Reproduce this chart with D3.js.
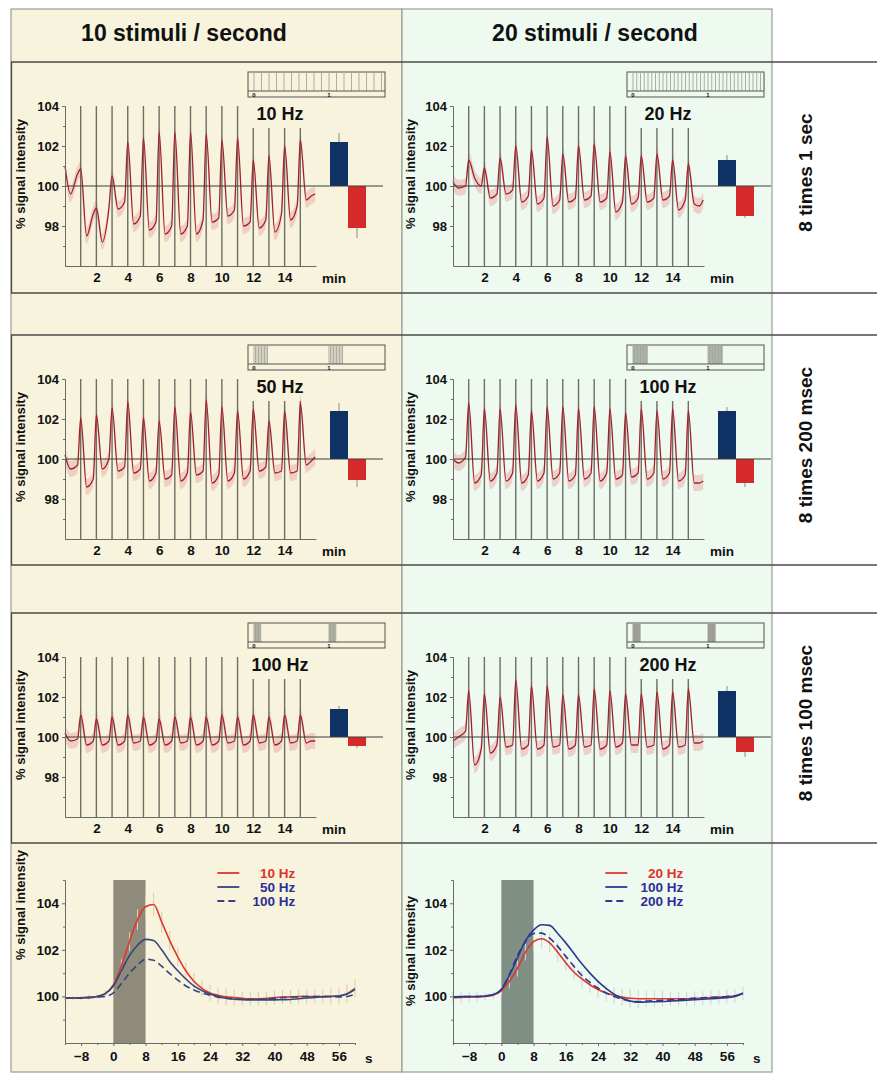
<!DOCTYPE html>
<html lang="en">
<head>
<meta charset="UTF-8">
<title>Stimulation frequency and BOLD signal</title>
<script src="https://cdn.jsdelivr.net/npm/d3@7/dist/d3.min.js"></script>
<style>
    body { margin: 0; background: #fff; }
    svg text { font-family: "Liberation Sans", Arial, Helvetica, sans-serif; font-weight: bold; fill: #111; }
</style>
</head>
<body>
<script>
    // ---- data ----
    // stimulus onsets (min) and the height reached by each marker line
    var onsets = [1, 2, 3, 4, 5, 6, 7, 8, 9, 10, 11, 12, 13, 14, 15];
    var markerTop = [104, 104, 104, 104, 104, 104, 104, 104, 104, 104, 104, 102.9, 102.9, 102.9, 102.9];
    var minTicks = [2, 4, 6, 8, 10, 12, 14];
    var pctTicks = [98, 100, 102, 104];
    var pctMinor = [97, 99, 101, 103];

    // time courses: value at start, value just before each peak, peak, trough after peak, end
    var lead10 = [101.0, 99.6];
    var pres10 = [100.6, 98.6, 98.9, 99.2, 98.5, 98.2, 98.0, 98.0, 98.3, 98.4, 98.8, 98.2, 98.3, 98.6, 99.0];
    var peaks10 = [100.85, 98.9, 100.5, 102.2, 102.4, 102.7, 102.7, 102.7, 102.6, 102.3, 102.4, 101.3, 101.5, 102.0, 102.3];
    var troughs10 = [97.5, 97.2, 98.85, 98.1, 97.8, 97.6, 97.6, 97.6, 98.2, 98.5, 98.0, 97.9, 97.7, 98.3, 99.3];
    var tail10 = [99.5, 99.6];

    var lead20 = [100.2, 99.9];
    var pres20 = [100.0, 100.0, 99.6, 99.8, 99.5, 99.4, 99.3, 99.4, 99.5, 99.4, 99.2, 99.4, 99.4, 99.5, 99.3];
    var peaks20 = [101.3, 100.9, 101.4, 102.0, 101.8, 102.45, 101.6, 102.0, 102.1, 101.7, 101.5, 101.5, 101.6, 101.3, 101.1];
    var troughs20 = [100.4, 99.4, 99.6, 99.2, 99.1, 99.0, 99.2, 99.3, 99.2, 98.7, 99.1, 99.2, 99.3, 98.8, 99.1];
    var tail20 = [99.0, 99.3];

    var lead50 = [100.2, 99.5];
    var pres50 = [99.7, 99.0, 100.0, 99.6, 99.5, 99.3, 99.2, 99.3, 99.4, 99.2, 99.3, 99.4, 99.6, 99.4, 99.4];
    var peaks50 = [102.05, 102.2, 102.55, 102.85, 102.05, 101.9, 102.6, 102.35, 102.95, 102.6, 102.4, 102.5, 101.9, 102.4, 102.8];
    var troughs50 = [98.6, 99.5, 99.4, 99.3, 98.9, 99.0, 98.9, 99.2, 98.8, 98.9, 99.0, 99.4, 99.3, 99.3, 99.7];
    var tail50 = [99.9, 100.1];

    var lead100a = [100.0, 99.8];
    var pres100a = [100.1, 99.2, 99.3, 99.3, 99.2, 99.3, 99.3, 99.2, 99.3, 99.3, 99.2, 99.3, 99.3, 99.3, 99.2];
    var peaks100a = [102.8, 102.5, 102.5, 102.7, 102.4, 102.6, 102.6, 102.5, 102.6, 102.5, 102.3, 102.5, 102.4, 102.5, 102.4];
    var troughs100a = [98.8, 98.9, 98.9, 98.8, 98.9, 99.0, 98.9, 99.0, 98.9, 99.0, 99.1, 99.0, 99.0, 98.9, 98.8];
    var tail100a = [98.8, 98.9];

    var lead100b = [100.2, 99.8];
    var pres100b = [99.9, 99.8, 99.8, 99.8, 99.8, 99.8, 99.8, 99.8, 99.8, 99.8, 99.8, 99.8, 99.8, 99.8, 99.8];
    var peaks100b = [101.1, 100.9, 101.0, 101.1, 101.0, 100.9, 101.0, 101.0, 101.0, 101.1, 101.0, 101.1, 101.0, 101.1, 101.1];
    var troughs100b = [99.6, 99.6, 99.6, 99.7, 99.6, 99.6, 99.7, 99.6, 99.6, 99.7, 99.6, 99.7, 99.6, 99.7, 99.7];
    var tail100b = [99.8, 99.8];

    var lead200 = [99.8, 100.0];
    var pres200 = [100.3, 99.4, 99.6, 99.6, 99.6, 99.6, 99.6, 99.6, 99.6, 99.6, 99.7, 99.6, 99.6, 99.6, 99.6];
    var peaks200 = [102.3, 102.15, 102.0, 102.85, 102.55, 102.55, 102.1, 102.1, 102.4, 102.3, 102.15, 102.15, 102.25, 102.25, 102.4];
    var troughs200 = [98.6, 99.2, 99.5, 99.4, 99.4, 99.5, 99.4, 99.5, 99.4, 99.5, 99.6, 99.5, 99.4, 99.5, 99.7];
    var tail200 = [99.7, 99.8];

    // mean activation / deactivation bars and their errors
    var bars10 = [102.2, 97.9], barErr10 = [0.45, 0.5];
    var bars20 = [101.3, 98.5], barErr20 = [0.25, 0.1];
    var bars50 = [102.4, 98.95], barErr50 = [0.4, 0.35];
    var bars100a = [102.4, 98.8], barErr100a = [0.2, 0.2];
    var bars100b = [101.4, 99.55], barErr100b = [0.15, 0.1];
    var bars200 = [102.3, 99.25], barErr200 = [0.25, 0.25];

    // averaged responses (s relative to stimulus onset)
    var secs = [-12, -10, -8, -6, -4, -2, 0, 2, 4, 6, 8, 10, 12, 14, 16, 18, 20, 22, 24, 26, 28, 30,
                32, 34, 36, 38, 40, 42, 44, 46, 48, 50, 52, 54, 56, 58, 60];
    var secTicks = [-8, 0, 8, 16, 24, 32, 40, 48, 56];
    var secMinor = [-12, -4, 4, 12, 20, 28, 36, 44, 52, 60];
    var resp10 = [99.93, 99.93, 99.94, 99.96, 100.0, 100.12, 100.5, 101.3, 102.35, 103.3, 103.85, 103.95, 103.2, 102.4, 101.7, 101.1, 100.65, 100.35, 100.15, 100.05, 99.98, 99.95,
                  99.92, 99.9, 99.9, 99.92, 99.95, 99.97, 99.98, 100.0, 100.0, 100.0, 100.0, 100.0, 100.02, 100.12, 100.35];
    var resp50 = [99.93, 99.93, 99.94, 99.96, 100.0, 100.12, 100.45, 101.1, 101.75, 102.2, 102.45, 102.4, 102.0, 101.5, 101.1, 100.75, 100.45, 100.25, 100.1, 100.0, 99.92, 99.88,
                  99.86, 99.85, 99.85, 99.85, 99.85, 99.86, 99.87, 99.9, 99.93, 99.96, 99.98, 100.0, 100.02, 100.1, 100.3];
    var resp100a = [99.92, 99.92, 99.93, 99.95, 99.97, 100.0, 100.15, 100.55, 101.0, 101.35, 101.6, 101.55, 101.3, 100.98, 100.7, 100.45, 100.28, 100.15, 100.05, 99.97, 99.92, 99.9,
                    99.88, 99.88, 99.88, 99.9, 99.92, 99.95, 99.97, 99.98, 100.0, 100.0, 100.0, 100.0, 99.98, 100.0, 100.1];
    var err10 = [0.1, 0.1, 0.1, 0.1, 0.1, 0.15, 0.2, 0.3, 0.4, 0.45, 0.5, 0.5, 0.45, 0.4, 0.4, 0.35, 0.35, 0.35, 0.35, 0.35, 0.35, 0.35,
                 0.3, 0.3, 0.3, 0.3, 0.3, 0.3, 0.3, 0.3, 0.3, 0.3, 0.3, 0.35, 0.35, 0.4, 0.4];

    var resp20 = [99.95, 99.96, 99.97, 99.98, 100.0, 100.05, 100.25, 100.65, 101.2, 101.9, 102.35, 102.48, 102.3, 101.9, 101.45, 101.05, 100.75, 100.5, 100.3, 100.15, 100.05, 99.97,
                  99.92, 99.9, 99.9, 99.9, 99.9, 99.9, 99.9, 99.9, 99.92, 99.93, 99.95, 99.97, 100.0, 100.02, 100.12];
    var resp100c = [99.98, 99.99, 100.0, 100.0, 100.02, 100.08, 100.3, 100.9, 101.65, 102.4, 102.85, 103.08, 103.05, 102.7, 102.3, 101.85, 101.4, 101.0, 100.65, 100.35, 100.1, 99.92,
                    99.8, 99.75, 99.76, 99.77, 99.78, 99.8, 99.82, 99.84, 99.86, 99.88, 99.9, 99.92, 99.95, 100.0, 100.15];
    var resp200 = [99.98, 99.99, 100.0, 100.0, 100.02, 100.08, 100.3, 100.95, 101.75, 102.35, 102.7, 102.72, 102.5, 102.15, 101.72, 101.3, 100.9, 100.6, 100.36, 100.15, 100.0, 99.88,
                   99.8, 99.78, 99.8, 99.82, 99.83, 99.85, 99.87, 99.9, 99.92, 99.94, 99.96, 99.98, 100.0, 100.03, 100.15];
    var err20 = [0.25, 0.25, 0.2, 0.2, 0.15, 0.15, 0.2, 0.3, 0.35, 0.35, 0.4, 0.4, 0.4, 0.4, 0.35, 0.35, 0.35, 0.35, 0.35, 0.35, 0.35, 0.35,
                 0.4, 0.4, 0.35, 0.35, 0.35, 0.3, 0.3, 0.3, 0.3, 0.3, 0.3, 0.3, 0.3, 0.3, 0.3];

    var sem = 0.4; // half-width of the shaded band around the time courses

    // ---- layout ----
    var W = 877, H = 1078;
    var rowTops = [62, 335, 613];
    var rowBottoms = [293, 565, 843];
    var rowLabels = ['8 times 1 sec', '8 times 200 msec', '8 times 100 msec'];
    var cols = [
        {x: 11, w: 391, fill: '#f7f3dd', x0: 65, boxX: 248, title: '10 stimuli / second', titleX: 184, ylabX: 25, gray: '#8e8b7a', errC: '#d4cdb4'},
        {x: 402, w: 370, fill: '#eef9f0', x0: 453, boxX: 627, title: '20 stimuli / second', titleX: 595, ylabX: 415, gray: '#7f8f83', errC: '#c9d6cc'}
    ];

    var panels = [
        {row: 0, col: 0, label: '10 Hz', hz: 10, dur: 1.0, lead: lead10, pres: pres10, peaks: peaks10, troughs: troughs10, tail: tail10, bars: bars10, err: barErr10},
        {row: 0, col: 1, label: '20 Hz', hz: 20, dur: 1.0, lead: lead20, pres: pres20, peaks: peaks20, troughs: troughs20, tail: tail20, bars: bars20, err: barErr20},
        {row: 1, col: 0, label: '50 Hz', hz: 50, dur: 0.2, lead: lead50, pres: pres50, peaks: peaks50, troughs: troughs50, tail: tail50, bars: bars50, err: barErr50},
        {row: 1, col: 1, label: '100 Hz', hz: 100, dur: 0.2, lead: lead100a, pres: pres100a, peaks: peaks100a, troughs: troughs100a, tail: tail100a, bars: bars100a, err: barErr100a},
        {row: 2, col: 0, label: '100 Hz', hz: 100, dur: 0.1, lead: lead100b, pres: pres100b, peaks: peaks100b, troughs: troughs100b, tail: tail100b, bars: bars100b, err: barErr100b},
        {row: 2, col: 1, label: '200 Hz', hz: 200, dur: 0.1, lead: lead200, pres: pres200, peaks: peaks200, troughs: troughs200, tail: tail200, bars: bars200, err: barErr200}
    ];

    var red = '#e2352f', blue = '#2c3a8c';
    var bottoms = [
        {col: 0, err: err10, series: [
            {name: '10 Hz', v: resp10, c: red, txt: '#e0302a', dash: null},
            {name: '50 Hz', v: resp50, c: '#34457e', txt: '#2a2f96', dash: null},
            {name: '100 Hz', v: resp100a, c: '#34457e', txt: '#2a2f96', dash: '7,4'}]},
        {col: 1, err: err20, series: [
            {name: '20 Hz', v: resp20, c: red, txt: '#e0302a', dash: null},
            {name: '100 Hz', v: resp100c, c: blue, txt: '#2a2f96', dash: null},
            {name: '200 Hz', v: resp200, c: blue, txt: '#2a2f96', dash: '7,4'}]}
    ];

    var svg = d3.select('body').append('svg')
                .attr('width', W)
                .attr('height', H);

    //column backgrounds
    cols.forEach(function(c) {
        svg.append('rect')
            .attr('x', c.x).attr('y', 9)
            .attr('width', c.w).attr('height', 1063)
            .attr('fill', c.fill)
            .attr('stroke', '#9c9c96').attr('stroke-width', 1.2);
        svg.append('text')
            .attr('x', c.titleX).attr('y', 41)
            .attr('text-anchor', 'middle')
            .attr('font-size', '23px')
            .text(c.title);
    });

    //row frames
    rowTops.forEach(function(t, i) {
        var b = rowBottoms[i];
        [t, b].forEach(function(yy) {
            svg.append('line')
                .attr('x1', 11).attr('x2', W).attr('y1', yy).attr('y2', yy)
                .attr('stroke', '#4a4a4a').attr('stroke-width', 1.3);
        });
        svg.append('line')
            .attr('x1', 11.5).attr('x2', 11.5).attr('y1', t).attr('y2', b)
            .attr('stroke', '#4a4a4a').attr('stroke-width', 1.3);
        svg.append('text')
            .attr('transform', 'translate(812,' + ((t + b) / 2 - 5) + ') rotate(-90)')
            .attr('text-anchor', 'middle')
            .attr('font-size', '19px')
            .text(rowLabels[i]);
    });

    function tracePoints(p) {
        var pts = [[0, p.lead[0]], [0.35, p.lead[1]]];
        onsets.forEach(function(m, i) {
            pts.push([m - 0.2, p.pres[i]]);
            pts.push([m, p.peaks[i]]);
            pts.push([m + 0.38, p.troughs[i]]);
        });
        pts.push([15.7, p.tail[0]]);
        pts.push([15.95, p.tail[1]]);
        return pts;
    }

    function styleAxis(sel, size) {
        sel.attr('font-size', size).attr('font-family', null);
        sel.select('.domain').attr('stroke', '#6a6a66');
        sel.selectAll('.tick line').attr('stroke', '#6a6a66');
        sel.selectAll('.tick text').attr('fill', '#111');
    }

    //time-course panels
    panels.forEach(function(p) {
        var col = cols[p.col];
        var top = rowTops[p.row];
        var x = d3.scaleLinear().domain([0, 16]).range([col.x0, col.x0 + 251]);
        var y = d3.scaleLinear().domain([96, 104]).range([top + 204, top + 44]);
        var g = svg.append('g');
        var pts = tracePoints(p);

        g.append('path')
            .datum(pts)
            .attr('d', d3.area()
                .x(function(d) { return x(d[0]); })
                .y0(function(d) { return y(d[1] - sem); })
                .y1(function(d) { return y(d[1] + sem); })
                .curve(d3.curveMonotoneX))
            .attr('fill', '#e8b7b1')
            .attr('opacity', 0.6);

        //stimulus markers
        g.selectAll('line.mark')
            .data(onsets)
            .enter()
            .append('line')
            .attr('class', 'mark')
            .attr('x1', function(d) { return x(d); })
            .attr('x2', function(d) { return x(d); })
            .attr('y1', y(96))
            .attr('y2', function(d, i) { return y(markerTop[i]); })
            .attr('stroke', '#6e6e66')
            .attr('stroke-width', 1.4);

        g.append('path')
            .datum(pts)
            .attr('d', d3.line()
                .x(function(d) { return x(d[0]); })
                .y(function(d) { return y(d[1]); })
                .curve(d3.curveMonotoneX))
            .attr('fill', 'none')
            .attr('stroke', '#a3202b')
            .attr('stroke-width', 1.3);

        //on / off bars
        var bx = d3.scaleBand().domain([0, 1]).range([col.x0 + 265, col.x0 + 301]);
        g.selectAll('rect.bar')
            .data(p.bars)
            .enter()
            .append('rect')
            .attr('class', 'bar')
            .attr('x', function(d, i) { return bx(i); })
            .attr('width', bx.bandwidth())
            .attr('y', function(d) { return y(Math.max(d, 100)); })
            .attr('height', function(d) { return Math.abs(y(d) - y(100)); })
            .attr('fill', function(d, i) { return i === 0 ? '#0e3263' : '#d6292a'; });
        g.selectAll('line.err')
            .data(p.bars)
            .enter()
            .append('line')
            .attr('class', 'err')
            .attr('x1', function(d, i) { return bx(i) + bx.bandwidth() / 2; })
            .attr('x2', function(d, i) { return bx(i) + bx.bandwidth() / 2; })
            .attr('y1', function(d) { return y(d); })
            .attr('y2', function(d, i) { return y(i === 0 ? d + p.err[i] : d - p.err[i]); })
            .attr('stroke', '#8a8a84')
            .attr('stroke-width', 1);

        //reference line at 100 %
        g.append('line')
            .attr('x1', x(0)).attr('x2', x(0) + 318)
            .attr('y1', y(100)).attr('y2', y(100))
            .attr('stroke', '#3d3d3a').attr('stroke-width', 1);

        //axes
        g.append('g')
            .attr('transform', 'translate(' + x(0) + ',0)')
            .call(d3.axisLeft(y).tickValues(pctTicks).tickSize(3).tickPadding(3).tickSizeOuter(0))
            .call(styleAxis, 13);
        g.append('g')
            .attr('transform', 'translate(' + x(0) + ',0)')
            .call(d3.axisLeft(y).tickValues(pctMinor).tickSize(2).tickFormat('').tickSizeOuter(0))
            .call(styleAxis, 13);
        g.append('g')
            .attr('transform', 'translate(0,' + y(96) + ')')
            .call(d3.axisBottom(x).tickValues(minTicks).tickSize(0).tickPadding(6).tickSizeOuter(0))
            .call(styleAxis, 13.5);
        g.append('text')
            .attr('x', x(0) + 257).attr('y', y(96) + 17)
            .attr('font-size', '13.5px')
            .text('min');
        g.append('text')
            .attr('transform', 'translate(' + col.ylabX + ',' + (top + 112) + ') rotate(-90)')
            .attr('text-anchor', 'middle')
            .attr('font-size', '13px')
            .text('% signal intensity');
        g.append('text')
            .attr('x', x(0) + 215).attr('y', top + 58)
            .attr('text-anchor', 'middle')
            .attr('font-size', '18px')
            .text(p.label);

        //stimulation protocol inset
        var bxl = col.boxX, byt = top + 10;
        var st = d3.scaleLinear().domain([0, 1]).range([bxl + 6, bxl + 81]);
        var pulses = [];
        [0, 1].forEach(function(b) {
            for (var i = 0; i < Math.round(p.dur * p.hz); i++) {
                var t = b + i / p.hz;
                if (t <= 1.75) pulses.push(t);
            }
        });
        g.append('rect')
            .attr('x', bxl).attr('y', byt)
            .attr('width', 137).attr('height', 25)
            .attr('fill', 'none').attr('stroke', '#55554f').attr('stroke-width', 1);
        g.selectAll('line.pulse')
            .data(pulses)
            .enter()
            .append('line')
            .attr('class', 'pulse')
            .attr('x1', function(d) { return st(d); })
            .attr('x2', function(d) { return st(d); })
            .attr('y1', byt + 1).attr('y2', byt + 19)
            .attr('stroke', '#9a9a92').attr('stroke-width', 0.8);
        g.append('line')
            .attr('x1', bxl).attr('x2', bxl + 137)
            .attr('y1', byt + 19).attr('y2', byt + 19)
            .attr('stroke', '#55554f').attr('stroke-width', 1);
        g.selectAll('text.sec')
            .data([0, 1])
            .enter()
            .append('text')
            .attr('class', 'sec')
            .attr('x', function(d) { return st(d); })
            .attr('y', byt + 24.5)
            .attr('text-anchor', 'middle')
            .attr('font-size', '6px')
            .text(function(d) { return d; });
    });

    //averaged responses
    bottoms.forEach(function(b) {
        var col = cols[b.col];
        var x = d3.scaleLinear().domain([-12, 60]).range([col.x0, col.x0 + 290]);
        var y = d3.scaleLinear().domain([98, 105]).range([1043, 880]);
        var g = svg.append('g');

        g.append('rect')
            .attr('x', x(0)).attr('y', y(105))
            .attr('width', x(8) - x(0)).attr('height', y(98) - y(105))
            .attr('fill', col.gray);

        g.selectAll('line.sd')
            .data(secs)
            .enter()
            .append('line')
            .attr('class', 'sd')
            .attr('x1', function(d) { return x(d); })
            .attr('x2', function(d) { return x(d); })
            .attr('y1', function(d, i) { return y(b.series[0].v[i] - b.err[i]); })
            .attr('y2', function(d, i) { return y(b.series[0].v[i] + b.err[i]); })
            .attr('stroke', col.errC).attr('stroke-width', 1);

        var line = d3.line()
            .x(function(d, i) { return x(secs[i]); })
            .y(function(d) { return y(d); })
            .curve(d3.curveMonotoneX);
        b.series.forEach(function(s, k) {
            g.append('path')
                .datum(s.v)
                .attr('d', line)
                .attr('fill', 'none')
                .attr('stroke', s.c)
                .attr('stroke-width', 1.6)
                .attr('stroke-dasharray', s.dash);
            var ly = 873 + k * 14;
            g.append('line')
                .attr('x1', x(0) + 104).attr('x2', x(0) + 126)
                .attr('y1', ly).attr('y2', ly)
                .attr('stroke', s.c).attr('stroke-width', 1.8)
                .attr('stroke-dasharray', s.dash);
            g.append('text')
                .attr('x', x(0) + 182).attr('y', ly + 5)
                .attr('text-anchor', 'end')
                .attr('font-size', '13.5px')
                .style('fill', s.txt)
                .text(s.name);
        });

        g.append('g')
            .attr('transform', 'translate(' + x(-12) + ',0)')
            .call(d3.axisLeft(y).tickValues([100, 102, 104]).tickFormat(d3.format('d')).tickSize(3).tickPadding(3).tickSizeOuter(0))
            .call(styleAxis, 13.5);
        g.append('g')
            .attr('transform', 'translate(' + x(-12) + ',0)')
            .call(d3.axisLeft(y).tickValues([99, 101, 103, 105]).tickSize(2).tickFormat('').tickSizeOuter(0))
            .call(styleAxis, 13);
        g.append('g')
            .attr('transform', 'translate(0,' + y(98) + ')')
            .call(d3.axisBottom(x).tickValues(secTicks).tickFormat(d3.format('d')).tickSize(3).tickPadding(5).tickSizeOuter(0))
            .call(styleAxis, 13.5);
        g.append('g')
            .attr('transform', 'translate(0,' + y(98) + ')')
            .call(d3.axisBottom(x).tickValues(secMinor).tickSize(2).tickFormat('').tickSizeOuter(0))
            .call(styleAxis, 13);
        g.append('text')
            .attr('x', x(60) + 10).attr('y', y(98) + 20)
            .attr('font-size', '13.5px')
            .text('s');
        g.append('text')
            .attr('transform', 'translate(' + col.ylabX + ',' + (b.col === 0 ? 905 : 951) + ') rotate(-90)')
            .attr('text-anchor', 'middle')
            .attr('font-size', '13px')
            .text('% signal intensity');
    });
</script>
</body>
</html>
